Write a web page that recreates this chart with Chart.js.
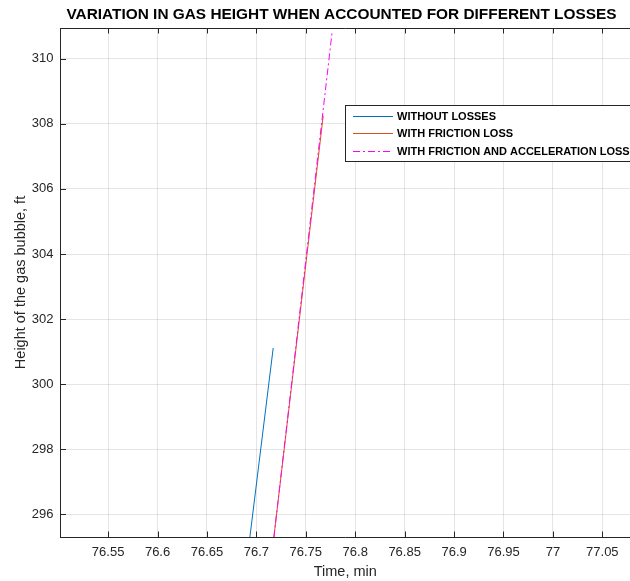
<!DOCTYPE html>
<html>
<head>
<meta charset="utf-8">
<script src="https://cdn.jsdelivr.net/npm/chart.js@4/dist/chart.umd.min.js"></script>
<style>
  html, body { margin: 0; padding: 0; background: #fff; overflow: hidden; }
  #wrap { width: 630px; height: 581px; }
</style>
</head>
<body>
<div id="wrap"><canvas id="c" width="630" height="581"></canvas></div>
<script>
// Gas bubble height vs time for three loss models
const chartTitle = 'VARIATION IN GAS HEIGHT WHEN ACCOUNTED FOR DIFFERENT LOSSES';
const seriesNames = ['WITHOUT LOSSES', 'WITH FRICTION LOSS', 'WITH FRICTION AND ACCELERATION LOSS'];
const timeWithout   = [76.6934, 76.7170];
const heightWithout = [295.30, 301.11];
const timeFriction   = [76.7177, 76.7676];
const heightFriction = [295.30, 308.25];
const timeAccel   = [76.7177, 76.7767];
const heightAccel = [295.30, 310.84];

const xTickValues = [76.55, 76.6, 76.65, 76.7, 76.75, 76.8, 76.85, 76.9, 76.95, 77, 77.05];
const yTickValues = [296, 298, 300, 302, 304, 306, 308, 310];
const xLimits = [76.5018, 77.078];
const yLimits = [295.306, 310.943];

const FONT = '"Liberation Sans", Arial, Helvetica, sans-serif';
const AXIS = '#262626';
const GRID = 'rgba(38,38,38,0.12)';

function pairs(xs, ys) { return xs.map((x, i) => ({ x: x, y: ys[i] })); }

// Title, inward tick marks, top box edge and the in-plot legend
const boxPlugin = {
  id: 'boxPlugin',
  afterDraw(chart) {
    const ctx = chart.ctx;
    const a = chart.chartArea;
    const xs = chart.scales.x, ys = chart.scales.y;
    const len = 5.5;
    ctx.save();

    ctx.fillStyle = '#000';
    ctx.font = 'bold 15.4px ' + FONT;
    ctx.textAlign = 'center';
    ctx.textBaseline = 'middle';
    ctx.fillText(chartTitle, 341.5, 15);

    ctx.strokeStyle = AXIS;
    ctx.lineWidth = 1;
    ctx.beginPath();
    ctx.moveTo(a.left, a.top + 0.5);
    ctx.lineTo(a.right, a.top + 0.5);
    xTickValues.forEach(v => {
      const px = Math.round(xs.getPixelForValue(v)) + 0.5;
      ctx.moveTo(px, a.bottom); ctx.lineTo(px, a.bottom - len);
      ctx.moveTo(px, a.top); ctx.lineTo(px, a.top + len);
    });
    yTickValues.forEach(v => {
      const py = Math.round(ys.getPixelForValue(v)) + 0.5;
      ctx.moveTo(a.left, py); ctx.lineTo(a.left + len, py);
    });
    ctx.stroke();

    // legend
    const lx = 345.5, ly = 105.5, lw = 300, lh = 56;
    ctx.fillStyle = '#fff';
    ctx.fillRect(lx, ly, lw, lh);
    ctx.strokeStyle = AXIS;
    ctx.strokeRect(lx, ly, lw, lh);
    const rows = [116, 133, 151];
    chart.data.datasets.forEach((ds, i) => {
      ctx.beginPath();
      ctx.strokeStyle = ds.borderColor;
      ctx.lineWidth = 1;
      ctx.setLineDash(ds.borderDash || []);
      ctx.moveTo(353, rows[i] + 0.5);
      ctx.lineTo(393, rows[i] + 0.5);
      ctx.stroke();
      ctx.setLineDash([]);
      ctx.fillStyle = '#000';
      ctx.font = 'bold 11px ' + FONT;
      ctx.textBaseline = 'middle';
      ctx.textAlign = 'left';
      ctx.fillText(ds.label, 397, rows[i] + 1);
    });
    ctx.restore();
  }
};

new Chart(document.getElementById('c'), {
  type: 'scatter',
  data: {
    datasets: [
      { label: seriesNames[0], data: pairs(timeWithout, heightWithout), showLine: true,
        borderColor: '#0072BD', borderWidth: 1, pointRadius: 0, order: 2 },
      { label: seriesNames[1], data: pairs(timeFriction, heightFriction), showLine: true,
        borderColor: '#D95319', borderWidth: 1, pointRadius: 0, order: 1 },
      { label: seriesNames[2], data: pairs(timeAccel, heightAccel), showLine: true,
        borderColor: '#FF00FF', borderWidth: 1, borderDash: [7, 3, 2, 3], pointRadius: 0, order: 0 }
    ]
  },
  options: {
    responsive: false,
    devicePixelRatio: 1,
    animation: false,
    layout: { padding: { top: 28, left: 0, right: 0, bottom: 0 } },
    plugins: {
      legend: { display: false },
      tooltip: { enabled: false },
      title: { display: false }
    },
    scales: {
      x: {
        type: 'linear',
        min: xLimits[0], max: xLimits[1],
        afterBuildTicks(s) { s.ticks = xTickValues.map(v => ({ value: v })); },
        afterFit(s) { s.height = 44; },
        ticks: { color: AXIS, font: { family: FONT, size: 13 }, padding: 8,
                 callback: v => String(+v.toFixed(2)), maxRotation: 0, autoSkip: false },
        grid: { color: GRID, drawTicks: false },
        border: { display: true, color: AXIS, width: 1 },
        title: { display: true, text: 'Time, min', color: AXIS,
                 font: { family: FONT, size: 14.5 }, padding: { top: 0, bottom: 0 } }
      },
      y: {
        type: 'linear',
        min: yLimits[0], max: yLimits[1],
        afterBuildTicks(s) { s.ticks = yTickValues.map(v => ({ value: v })); },
        afterFit(s) { s.width = 60.5; },
        ticks: { color: AXIS, font: { family: FONT, size: 13 }, padding: 7, autoSkip: false },
        grid: { color: GRID, drawTicks: false },
        border: { display: true, color: AXIS, width: 1 },
        title: { display: true, text: 'Height of the gas bubble, ft', color: AXIS,
                 font: { family: FONT, size: 14.5 }, padding: { top: 12, bottom: 0 } }
      }
    }
  },
  plugins: [boxPlugin]
});
</script>
</body>
</html>
